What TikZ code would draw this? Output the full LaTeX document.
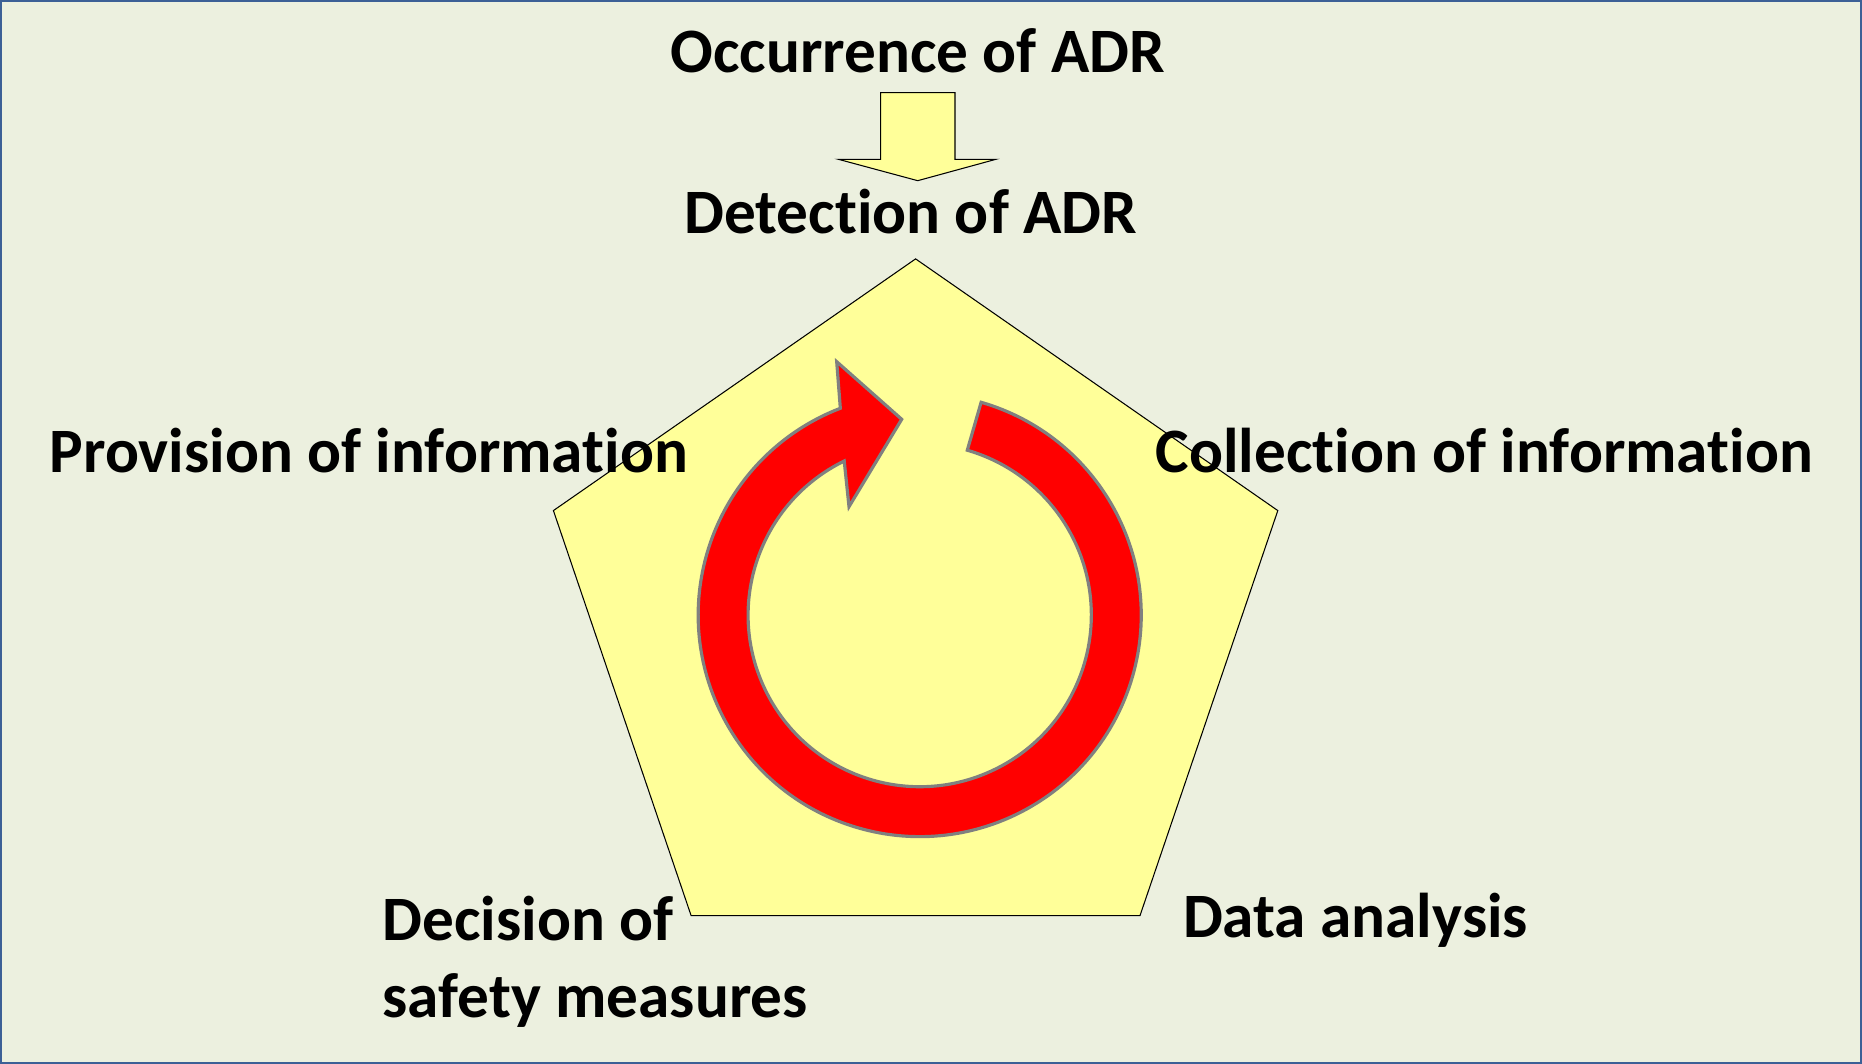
\documentclass[tikz,border=0pt]{standalone}
\usepackage{fontspec}
\setmainfont{Carlito}[Ligatures={NoCommon,NoContextual}]
\definecolor{bgc}{RGB}{236,240,223}
\definecolor{framec}{RGB}{60,96,150}
\definecolor{penta}{RGB}{255,255,153}
\definecolor{ringred}{RGB}{255,0,0}
\definecolor{ringedge}{RGB}{128,128,128}
\begin{document}
\begin{tikzpicture}[x=0.02cm,y=0.02cm,
  lbl/.style={font=\fontsize{36}{44}\selectfont\bfseries, inner sep=0pt, text=black},
  shapeline/.style={draw=black, line width=0.6pt, line join=miter}]
\useasboundingbox (0,0) rectangle (1862,1064);
\fill[bgc] (0,0) rectangle (1862,1064);
\draw[framec, line width=1.1pt] (1,1) rectangle (1861,1063);
% pentagon
\filldraw[fill=penta, shapeline] (915.6,805.1) -- (1277.8,553.4) -- (1140,148.4) -- (691.1,148.4) -- (553.4,553.4) -- cycle;
% top arrow
\filldraw[fill=penta, shapeline] (880.7,971.3) -- (955,971.3) -- (955,904.7) -- (996,904.7) -- (917.7,883.3) -- (838.3,904.7) -- (880.7,904.7) -- cycle;
% circular arrow
\begin{scope}[shift={(919.7,448.9)}]
\filldraw[fill=ringred, draw=ringedge, line width=1.8pt, line join=miter]
  (73.9:221.5) arc[start angle=73.9, end angle=-249, radius=221.5]
  -- (-83,253.4) -- (-18,195.8) -- (-70.7,108.4) -- (116.1:171.6)
  arc[start angle=116.1, end angle=433.9, radius=171.6] -- cycle;
\end{scope}
% labels
\node[lbl, anchor=base] (occ) at (918,991.6) {Occurrence of ADR};
\node[lbl, anchor=base] (det) at (910.8,830) {Detection of ADR};
\node[lbl, anchor=base] (prov) at (368.8,591.4) {Provision of information};
\node[lbl, anchor=base] (coll) at (1484.3,591.4) {Collection of information};
\node[lbl, anchor=base] (data) at (1355.5,126) {Data analysis};
\node[lbl, anchor=base west] (dec1) at (382.4,123.5) {Decision of};
\node[lbl, anchor=base west] (dec2) at (382.4,46.3) {safety measures};
\end{tikzpicture}
\end{document}
